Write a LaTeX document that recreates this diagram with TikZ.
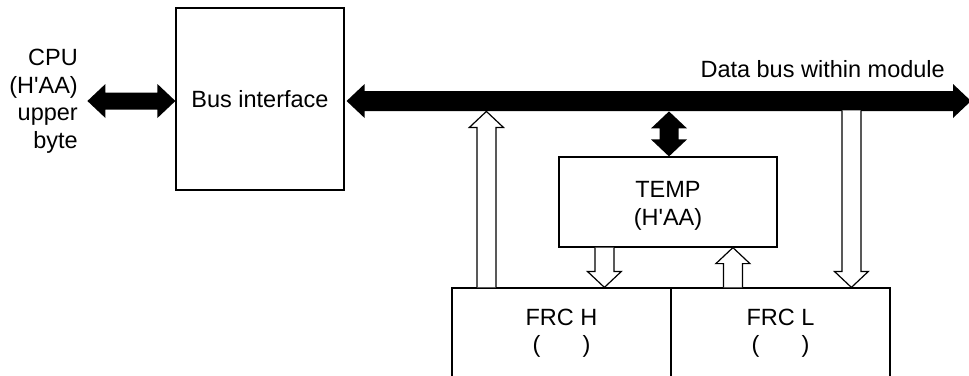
\documentclass[tikz,border=0pt]{standalone}
\usepackage{fontspec}
\setmainfont{Liberation Sans}
\usetikzlibrary{calc}
\tikzset{
  blockbox/.style={draw, line width=1.2pt, inner sep=0pt, align=center},
  hollow/.style={draw, fill=white, line width=1.2pt, line join=miter},
  solidarrow/.style={fill=black},
  lbl/.style={inner sep=0pt, align=right},
  boxtext/.style={inner sep=0pt, align=center}
}
\newcommand\hollowarrow[2]{%
  \path ($(#2)!16pt!(#1)$) coordinate (hb);
  \draw[hollow] ($(#1)!9.5pt!90:(#2)$) -- ($(hb)!9.5pt!90:(#2)$) -- ($(hb)!17pt!90:(#2)$) -- (#2)
     -- ($(hb)!17pt!-90:(#2)$) -- ($(hb)!9.5pt!-90:(#2)$) -- ($(#1)!9.5pt!-90:(#2)$);}
\newcommand\dblarrow[5]{%
  \path ($(#1)!#5!(#2)$) coordinate (ha) ($(#2)!#5!(#1)$) coordinate (hbb);
  \fill[solidarrow] (#1) -- ($(ha)!#4!90:(#2)$) -- ($(ha)!#3!90:(#2)$) -- ($(hbb)!#3!-90:(#1)$)
     -- ($(hbb)!#4!-90:(#1)$) -- (#2) -- ($(hbb)!#4!90:(#1)$) -- ($(hbb)!#3!90:(#1)$)
     -- ($(ha)!#3!-90:(#2)$) -- ($(ha)!#4!-90:(#2)$) -- cycle;}
\begin{document}
\begin{tikzpicture}[x=1pt,y=-1pt]
\fontsize{23.5}{27.5}\selectfont
\clip (0,0) rectangle (969,375);
\fill[white] (0,0) rectangle (969,375);
% boxes
\node[blockbox, minimum width=168pt, minimum height=182pt] (bi) at (260,99) {Bus interface};
\node[blockbox, minimum width=218pt, minimum height=90pt] (temp) at (668,202) {};
\node[boxtext] (templbl) at ($(temp.center)+(0,4)$) {\fontsize{23.5}{27}\selectfont TEMP\\(H\textquotesingle AA)};
\node[blockbox, minimum width=219pt, minimum height=90pt] (frch) at (561.5,333) {FRC H\\(\hspace{42pt})};
\node[blockbox, minimum width=219pt, minimum height=90pt] (frcl) at (780.5,333) {FRC L\\(\hspace{42pt})};
% labels
\node[lbl, anchor=east] (cpu) at (78,101) {\fontsize{23.5}{26.7}\selectfont CPU\\(H\textquotesingle AA)\\upper\\byte};
\node[lbl, anchor=base east] (buslbl) at (945,77) {Data bus within module};
% bus
\coordinate (busL) at ($(bi.east)+(2,2)$);
\coordinate (busR) at (971,101);
\dblarrow{busL}{busR}{10pt}{17pt}{18pt}
% CPU arrow
\coordinate (cpuR) at ($(bi.west)+(0,2)$);
\coordinate (cpuL) at ($(cpuR)+(-88,0)$);
\dblarrow{cpuL}{cpuR}{8.5pt}{17pt}{18pt}
% TEMP <-> bus
\coordinate (tb) at ($(temp.north)+(1,-45)$);
\coordinate (tt) at ($(temp.north)+(1,0)$);
\dblarrow{tb}{tt}{9.5pt}{18pt}{17pt}
% hollow arrows
\coordinate (a1s) at ($(frch.north west)+(35,0)$);
\coordinate (a1e) at ($(a1s)+(0,-176)$);
\hollowarrow{a1s}{a1e}
\coordinate (a2s) at ($(temp.south west)+(46,0)$);
\coordinate (a2e) at ($(a2s |- frch.north)$);
\hollowarrow{a2s}{a2e}
\coordinate (a3s) at ($(frcl.north west)+(62.5,0)$);
\coordinate (a3e) at ($(a3s |- temp.south)$);
\hollowarrow{a3s}{a3e}
\coordinate (a4e) at ($(frcl.north west)+(181,0)$);
\coordinate (a4s) at ($(a4e)+(0,-177)$);
\hollowarrow{a4s}{a4e}
\end{tikzpicture}
\end{document}
